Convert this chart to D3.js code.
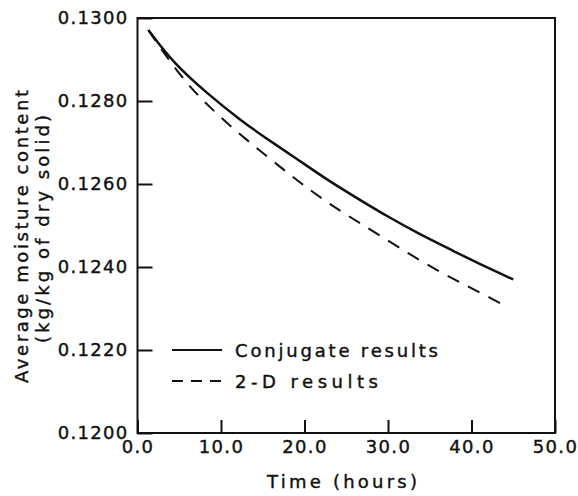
<!DOCTYPE html>
<html>
<head>
<meta charset="utf-8">
<script src="https://cdn.jsdelivr.net/npm/d3@7"></script>
<style>
  html, body { margin: 0; padding: 0; background: #fff; }
  svg { display: block; }
  text { font-family: "DejaVu Sans", sans-serif; fill: #111; stroke: #111; stroke-width: 0.4px; }
</style>
</head>
<body>
<svg id="chart" width="578" height="496"></svg>
<script>
// Drying curve: average moisture content vs time
const timeConjugate = [1.3, 4.3, 8.3, 12.3, 15.7, 18.7, 22.7, 26.7, 30.0, 33.6, 37.6, 41.6, 45.0];
const conjugate     = [0.12971, 0.12891, 0.12819, 0.12754, 0.12706, 0.12666, 0.12610, 0.12561, 0.12521, 0.12481, 0.12441, 0.12401, 0.12370];

const time2D = [1.3, 3.3, 6.1, 8.6, 11.6, 17.4, 20.2, 23.2, 26.3, 32.9, 36.3, 39.4, 42.6, 43.6];
const twoD   = [0.12971, 0.12911, 0.12837, 0.12786, 0.12730, 0.12636, 0.12592, 0.12549, 0.12510, 0.12427, 0.12387, 0.12355, 0.12322, 0.12311];

const xTicks = [0, 10, 20, 30, 40, 50];
const yTicks = [0.1200, 0.1220, 0.1240, 0.1260, 0.1280, 0.1300];
const legendLabels = ["Conjugate results", "2-D results"];

const svg = d3.select("#chart");
const plotLeft = 137.5, plotRight = 555, plotTop = 18, plotBottom = 433;
const fontSize = "18px";

const x = d3.scaleLinear().domain([0, 50]).range([plotLeft, plotRight]);
const y = d3.scaleLinear().domain([0.12, 0.13]).range([plotBottom, plotTop]);

// y axis: ticks point into the plot
const yAxis = svg.append("g")
  .attr("transform", `translate(${plotLeft},0)`)
  .call(d3.axisLeft(y).tickValues(yTicks).tickFormat(d3.format(".4f"))
    .tickSizeInner(-15).tickSizeOuter(0).tickPadding(9));
yAxis.select(".domain").remove();
yAxis.selectAll(".tick line").attr("stroke", "#111").attr("stroke-width", 2);
yAxis.selectAll(".tick text")
  .style("font-size", fontSize).style("letter-spacing", "1.3px")
  .attr("fill", "#111");

// x axis
const xAxis = svg.append("g")
  .attr("transform", `translate(0,${plotBottom})`)
  .call(d3.axisBottom(x).tickValues(xTicks).tickFormat(d3.format(".1f"))
    .tickSizeInner(-13).tickSizeOuter(0).tickPadding(7));
xAxis.select(".domain").remove();
xAxis.selectAll(".tick line").attr("stroke", "#111").attr("stroke-width", 2);
xAxis.selectAll(".tick text")
  .style("font-size", fontSize).style("letter-spacing", "1.3px")
  .attr("fill", "#111");

// frame
svg.append("rect")
  .attr("x", plotLeft).attr("y", plotTop)
  .attr("width", plotRight - plotLeft).attr("height", plotBottom - plotTop)
  .attr("fill", "none").attr("stroke", "#111").attr("stroke-width", 2);

// curves
const line = d3.line().curve(d3.curveBasis)
  .x(d => x(d[0])).y(d => y(d[1]));

svg.append("path")
  .datum(time2D.map((t, i) => [t, twoD[i]]))
  .attr("d", line)
  .attr("fill", "none").attr("stroke", "#111").attr("stroke-width", 2)
  .attr("stroke-dasharray", "13,10");

svg.append("path")
  .datum(timeConjugate.map((t, i) => [t, conjugate[i]]))
  .attr("d", line)
  .attr("fill", "none").attr("stroke", "#111").attr("stroke-width", 2.5);

// legend
const legend = svg.append("g");
const legendY = [y(0.1220), y(0.1220) + 31];
const legendWidths = [203, 143];
legendLabels.forEach((label, i) => {
  legend.append("line")
    .attr("x1", 172).attr("x2", 222)
    .attr("y1", legendY[i]).attr("y2", legendY[i])
    .attr("stroke", "#111").attr("stroke-width", 2)
    .attr("stroke-dasharray", i === 0 ? null : "11,8");
  legend.append("text")
    .attr("x", 235).attr("y", legendY[i] + 7)
    .attr("textLength", legendWidths[i]).attr("lengthAdjust", "spacing")
    .style("font-size", fontSize)
    .text(label);
});

// axis titles
svg.append("text")
  .attr("x", 267).attr("y", 488)
  .attr("textLength", 150).attr("lengthAdjust", "spacing")
  .style("font-size", fontSize)
  .text("Time (hours)");

svg.append("text")
  .attr("transform", `translate(28,383) rotate(-90)`)
  .attr("textLength", 293).attr("lengthAdjust", "spacing")
  .style("font-size", fontSize)
  .text("Average moisture content");

svg.append("text")
  .attr("transform", `translate(49,343) rotate(-90)`)
  .attr("textLength", 228).attr("lengthAdjust", "spacing")
  .style("font-size", fontSize)
  .text("(kg/kg of dry solid)");
</script>
</body>
</html>
